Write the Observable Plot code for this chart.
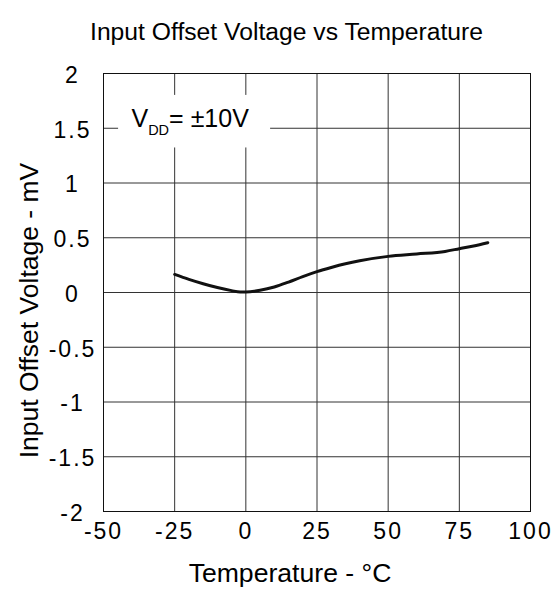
<!DOCTYPE html>
<html><head><meta charset="utf-8">
<script src="https://cdn.jsdelivr.net/npm/d3@7"></script>
<script src="https://cdn.jsdelivr.net/npm/@observablehq/plot@0.6"></script>
<style>
body{margin:0;background:#fff;}
g[aria-label="x-axis tick label"] text, g[aria-label="y-axis tick label"] text {letter-spacing:2px;}
</style>
</head><body><div id="chart"></div>
<script>
const title = "Input Offset Voltage vs Temperature";
const xLabel = "Temperature - °C";
const yLabel = "Input Offset Voltage - mV";
const temperature = [-25, -20, -15, -10, -5, -2, 0, 5, 10, 15, 20, 25, 30, 35, 40, 50, 60, 70, 75, 80, 85];
const offsetVoltage = [0.165, 0.12, 0.08, 0.045, 0.017, 0.005, 0.005, 0.02, 0.05, 0.095, 0.145, 0.19, 0.228, 0.262, 0.29, 0.33, 0.352, 0.375, 0.4, 0.425, 0.455];
const xTicks = [-50, -25, 0, 25, 50, 75, 100];
const yTicks = [-2, -1.5, -1, -0.5, 0, 0.5, 1, 1.5, 2];
const noteMain = "V", noteSub = "DD", noteRest = "= ±10V";

const data = temperature.map((t, i) => ({t, v: offsetVoltage[i]}));
const font = "'Liberation Sans', Arial, Helvetica, sans-serif";

const chart = Plot.plot({
  width: 560, height: 597,
  marginLeft: 103, marginRight: 30, marginTop: 73, marginBottom: 86,
  style: {fontFamily: font, background: "#fff", color: "#000"},
  x: {domain: [-50, 100]},
  y: {domain: [-2, 2]},
  marks: [
    Plot.gridX(xTicks, {stroke: "#333", strokeOpacity: 1}),
    Plot.gridY(yTicks, {stroke: "#333", strokeOpacity: 1}),
    Plot.rect([noteMain], {x1: () => -44.7, x2: () => 8.7, y1: () => 1.32, y2: () => 1.8, fill: "white"}),
    Plot.frame({stroke: "#111"}),
    Plot.axisX(xTicks, {tickSize: 0, tickPadding: 11, fontSize: 23, tickFormat: d => String(d), label: null}),
    Plot.axisY(yTicks, {tickSize: 0, tickPadding: 0, dx: -31, dy: 2, textAnchor: "middle", fontSize: 23, tickFormat: d => String(d), label: null}),
    Plot.line(data, {x: "t", y: "v", curve: "monotone-x", stroke: "#111", strokeWidth: 3}),
    Plot.text([title], {frameAnchor: "top", dy: -51.3, dx: -30.5, fontSize: 24.7, fill: "#000"}),
    Plot.text([xLabel], {frameAnchor: "bottom", dy: 70, dx: -27, fontSize: 26.6, fill: "#000"}),
    Plot.text([yLabel], {frameAnchor: "left", textAnchor: "middle", rotate: -90, dx: -74.3, dy: 18, fontSize: 26.5, fill: "#000"})
  ]
});

const xs = chart.scale("x"), ys = chart.scale("y");
const note = d3.select(chart).append("text")
  .attr("x", xs.apply(-40)).attr("y", ys.apply(1.51))
  .attr("text-anchor", "start")
  .attr("font-size", 25).attr("font-family", font).attr("fill", "#000");
note.append("tspan").text(noteMain);
note.append("tspan").attr("font-size", 14.5).attr("dy", 8).text(noteSub);
note.append("tspan").attr("dy", -8).text(noteRest);

document.getElementById("chart").appendChild(chart);
</script>
</body></html>
